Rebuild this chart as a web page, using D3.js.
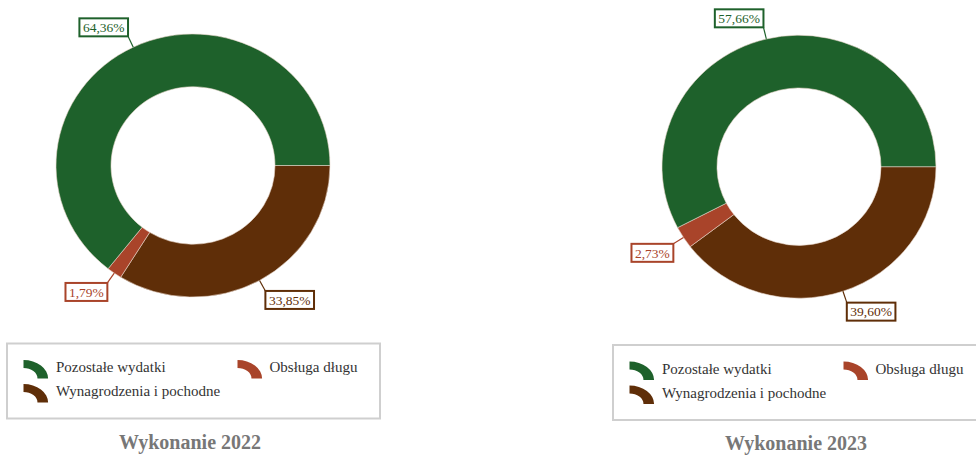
<!DOCTYPE html>
<html>
<head>
<meta charset="utf-8">
<script src="https://cdn.jsdelivr.net/npm/d3@7/dist/d3.min.js"></script>
<style>
  body { margin: 0; background: #fff; }
  svg { display: block; }
  text { font-family: "Liberation Serif", "DejaVu Serif", serif; }
</style>
</head>
<body>
<div id="chart"></div>
<script>
// data
const categories = ['Pozostałe wydatki', 'Obsługa długu', 'Wynagrodzenia i pochodne']
const values2022 = [64.36, 1.79, 33.85]
const values2023 = [57.66, 2.73, 39.60]
const years = ['Wykonanie 2022', 'Wykonanie 2023']
const colors = ['#1e612b', '#a9442a', '#5f2e08']
// slices drawn clockwise from 3 o'clock in this order
const sliceOrder = [2, 1, 0]

const width = 976, height = 455
const svg = d3.select('#chart').append('svg')
  .attr('width', width)
  .attr('height', height)

const fmt = v => v.toFixed(2).replace('.', ',') + '%'

const panels = [
  {values: values2022, title: years[0], cx: 193, cy: 165.5, top: 343.5},
  {values: values2023, title: years[1], cx: 799, cy: 166.7, top: 345}
]

const rOuter = 137, rInner = 82, sy = 0.96

panels.forEach(p => {
  const g = svg.append('g')
  const pie = d3.pie()
    .sort(null)
    .value(i => p.values[i])
    .startAngle(Math.PI / 2)
    .endAngle(Math.PI / 2 + 2 * Math.PI)
  const arcs = pie(sliceOrder)
  const arc = d3.arc().innerRadius(rInner).outerRadius(rOuter)

  g.append('g')
    .attr('transform', `translate(${p.cx},${p.cy}) scale(1,${sy})`)
    .selectAll('path')
    .data(arcs)
    .enter().append('path')
    .attr('d', arc)
    .attr('fill', d => colors[d.data])
    .attr('stroke', '#e8d8cc')
    .attr('stroke-width', 0.6)

  // labels
  const lab = g.append('g')
  arcs.forEach(d => {
    const a = (d.startAngle + d.endAngle) / 2
    const sx = Math.sin(a), cy = -Math.cos(a)
    const x0 = p.cx + rOuter * sx, y0 = p.cy + rOuter * sy * cy
    const len = 12
    const x1 = x0 + len * sx, y1 = y0 + len * cy
    const col = colors[d.data]
    lab.append('line')
      .attr('x1', x0).attr('y1', y0)
      .attr('x2', x1).attr('y2', y1)
      .attr('stroke', col)
      .attr('stroke-width', 1.2)
    const t = lab.append('text')
      .attr('font-size', 13.5)
      .attr('fill', col)
      .text(fmt(p.values[d.data]))
    const tw = t.node().getComputedTextLength()
    const bw = tw + 7, bh = 18
    const bx = sx < 0 ? x1 - bw : x1
    const by = cy < 0 ? y1 - bh : y1
    lab.insert('rect', 'text')
      .attr('x', bx).attr('y', by)
      .attr('width', bw).attr('height', bh)
      .attr('fill', '#fff')
      .attr('stroke', col)
      .attr('stroke-width', 2)
    t.attr('x', bx + bw / 2)
      .attr('y', by + 13.7)
      .attr('text-anchor', 'middle')
  })

  // legend
  const lx = p.cx - 186, lw = 373, lh = 75
  const leg = g.append('g').attr('transform', `translate(${lx},${p.top})`)
  leg.append('rect')
    .attr('width', lw).attr('height', lh)
    .attr('fill', '#fff')
    .attr('stroke', '#cfcfcf')
    .attr('stroke-width', 2)
  const icon = d3.arc().innerRadius(10.5).outerRadius(18.5)
    .startAngle(0).endAngle(Math.PI / 2)
  const pos = [[0, 0], [1, 0], [0, 1]]
  categories.forEach((c, i) => {
    const [col, row] = pos[i]
    const ix = 16.5 + col * 214, iy = 16.5 + row * 24
    leg.append('path')
      .attr('d', icon)
      .attr('transform', `translate(${ix},${iy + 18.5}) scale(1.33,1)`)
      .attr('fill', colors[i])
    leg.append('text')
      .attr('x', 49 + col * 213.5)
      .attr('y', 28.8 + row * 24)
      .attr('font-size', 15)
      .attr('fill', '#333')
      .text(c)
  })

  g.append('text')
    .attr('x', p.cx - 3)
    .attr('y', p.top + lh + 30)
    .attr('text-anchor', 'middle')
    .attr('font-size', 20)
    .attr('font-weight', 'bold')
    .attr('fill', '#777')
    .text(p.title)
})
</script>
</body>
</html>
